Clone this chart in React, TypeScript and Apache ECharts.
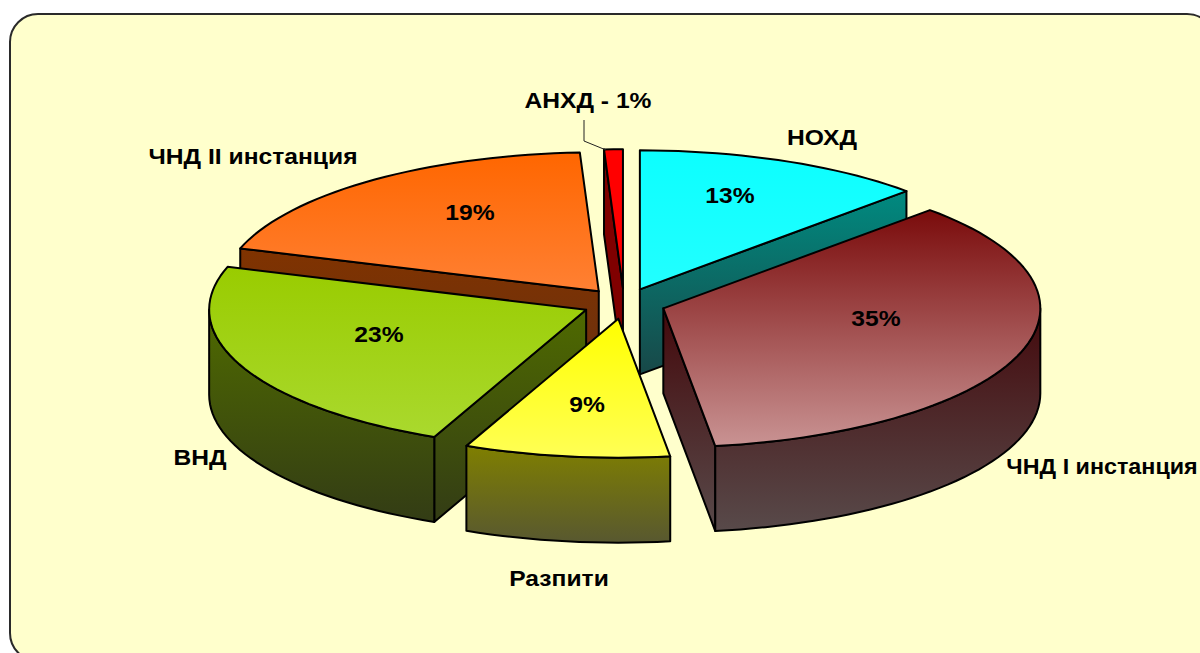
import React, { useEffect, useRef } from "react";
import * as echarts from "echarts";

// ---- data ----
const categories = ["НОХД", "ЧНД I инстанция", "Разпити", "ВНД", "ЧНД II инстанция", "АНХД"];
// slice sizes (the printed labels are these, rounded)
const values = [12.5, 35.3, 8.8, 23.4, 19.2, 0.8];
// painter's order, back to front (indices into the arrays above)
const paintOrder = [0, 5, 4, 1, 3, 2];

// ---- styles ----
const topColors = [
  ["#0cffff", "#22ffff"],
  ["#7a0b0b", "#c99393"],
  ["#ffff00", "#ffff55"],
  ["#99cc00", "#aad92e"],
  ["#ff6600", "#ff8033"],
  ["#ff0000", "#ff0000"],
];
const wallColors = [
  ["#008a80", "#184848"],
  ["#44090c", "#584a4a"],
  ["#7f7f00", "#585830"],
  ["#4f6a00", "#333c15"],
  ["#803300", "#6a3010"],
  ["#800000", "#800000"],
];

const CX = 624;
const CY = 303.5;
const RX = 377;
const RY = 139;
const DEPTH = 85;
const EXPLODE = 0.11;
const FONT = '"Liberation Sans", Arial, sans-serif';

const percentLabelPos = [
  [730, 195],
  [876, 318],
  [587, 404],
  [379, 334],
  [470, 212],
];
const nameLabelPos = [
  [822, 137],
  [1102, 466],
  [559, 578],
  [200, 457],
  [253, 156],
  [588, 100],
];
const nameLabelScale = [1.12, 1.06, 1.12, 1.12, 1.12, 1.12];

const total = values.reduce((a, b) => a + b, 0);
const starts: number[] = [];
values.reduce((acc, v, i) => {
  starts[i] = acc;
  return acc + v;
}, 0);

const rad = (d: number) => (d * Math.PI) / 180;

function renderItem(_params: any, api: any) {
  const idx = api.value(0);
  const v = api.value(1);
  const s = (starts[idx] / total) * 360;
  const e = s + (v / total) * 360;
  const mid = rad((s + e) / 2);
  const ax = CX + Math.sin(mid) * RX * EXPLODE;
  const ay = CY - Math.cos(mid) * RY * EXPLODE;
  const pt = (deg: number, dy = 0): [number, number] => [
    ax + Math.sin(rad(deg)) * RX,
    ay - Math.cos(rad(deg)) * RY + dy,
  ];
  const arc = (a: number, b: number, dy = 0) => {
    const n = Math.max(2, Math.ceil(Math.abs(b - a) / 2));
    const out: [number, number][] = [];
    for (let i = 0; i <= n; i++) out.push(pt(a + ((b - a) * i) / n, dy));
    return out;
  };

  const wallPolys: [number, number][][] = [];
  const edgeWall = (deg: number) => [
    [ax, ay],
    pt(deg),
    pt(deg, DEPTH),
    [ax, ay + DEPTH],
  ] as [number, number][];
  if (Math.cos(rad(s - 90)) < -1e-6) wallPolys.push(edgeWall(s));
  if (Math.cos(rad(e + 90)) < -1e-6) wallPolys.push(edgeWall(e));
  const f0 = Math.max(s, 90);
  const f1 = Math.min(e, 270);
  if (f1 > f0) wallPolys.push([...arc(f0, f1), ...arc(f1, f0, DEPTH)]);

  const ys = wallPolys.flat().map((p) => p[1]);
  const wy0 = Math.min(...ys);
  const wy1 = Math.max(...ys);
  const wallFill = new echarts.graphic.LinearGradient(
    0, wy0, 0, wy1,
    [
      { offset: 0, color: wallColors[idx][0] },
      { offset: 1, color: wallColors[idx][1] },
    ],
    true
  );
  const topPts: [number, number][] = [[ax, ay], ...arc(s, e)];
  const tys = topPts.map((p) => p[1]);
  const topFill = new echarts.graphic.LinearGradient(
    0, Math.min(...tys), 0, Math.max(...tys),
    [
      { offset: 0, color: topColors[idx][0] },
      { offset: 1, color: topColors[idx][1] },
    ],
    true
  );
  const stroke = { stroke: "#000", lineWidth: 2, lineJoin: "round" };
  return {
    type: "group",
    children: [
      ...wallPolys.map((points) => ({
        type: "polygon",
        shape: { points },
        style: { fill: wallFill, ...stroke },
      })),
      { type: "polygon", shape: { points: topPts }, style: { fill: topFill, ...stroke } },
    ],
  };
}

function label(text: string, x: number, y: number, scaleX = 1.12) {
  return {
    type: "text",
    x,
    y,
    scaleX,
    z: 100,
    silent: true,
    style: {
      text,
      x: 0,
      y: 0,
      fill: "#000",
      font: `bold 22px ${FONT}`,
      textAlign: "center",
      textVerticalAlign: "middle",
    },
  };
}

export default function App() {
  const ref = useRef<HTMLDivElement>(null);
  useEffect(() => {
    document.body.style.margin = "0";
    const chart = echarts.init(ref.current!, null, { renderer: "svg" });
    chart.setOption({
      animation: false,
      backgroundColor: "#ffffff",
      graphic: {
        elements: [
          {
            type: "rect",
            z: -1,
            silent: true,
            shape: { x: 10, y: 14, width: 1205, height: 647, r: 28 },
            style: { fill: "#ffffcc", stroke: "#2a2a2a", lineWidth: 2 },
          },
          {
            type: "polyline",
            z: 100,
            silent: true,
            shape: { points: [[584, 120], [584, 141], [606, 150]] },
            style: { stroke: "#222", lineWidth: 1, fill: "none" },
          },
          ...values.map((v, i) =>
            i < percentLabelPos.length
              ? label(`${Math.round(v)}%`, percentLabelPos[i][0], percentLabelPos[i][1])
              : label(`${categories[i]} - ${Math.round(v)}%`, nameLabelPos[i][0], nameLabelPos[i][1], nameLabelScale[i])
          ),
          ...categories
            .slice(0, percentLabelPos.length)
            .map((c, i) => label(c, nameLabelPos[i][0], nameLabelPos[i][1], nameLabelScale[i])),
        ],
      },
      series: [
        {
          type: "custom",
          coordinateSystem: "none",
          silent: true,
          clip: false,
          renderItem,
          data: paintOrder.map((i) => [i, values[i]]),
        },
      ],
    });
    return () => chart.dispose();
  }, []);
  return (
    <div
      ref={ref}
      style={{ position: "fixed", left: 0, top: 0, width: 1200, height: 653 }}
    />
  );
}
